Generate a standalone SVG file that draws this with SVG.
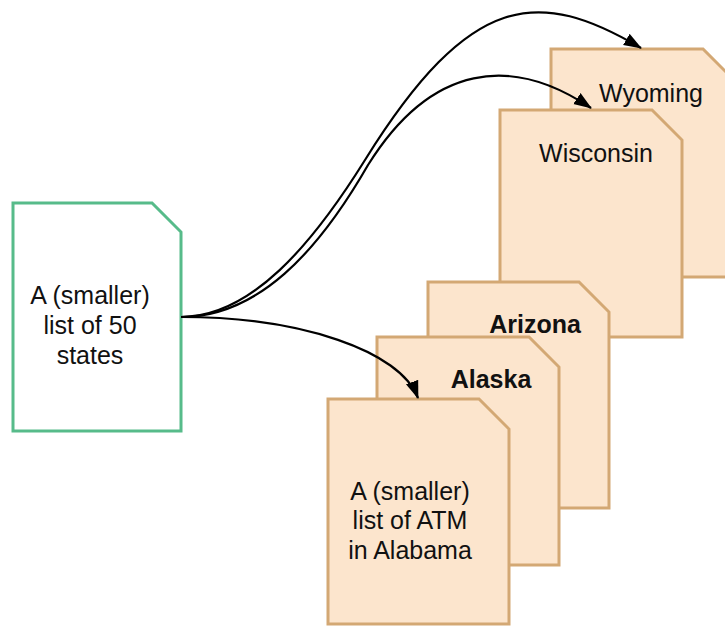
<svg xmlns="http://www.w3.org/2000/svg" width="725" height="626" viewBox="0 0 725 626">
  <style>
    .doc { fill: #fce5cd; stroke: #d3a874; stroke-width: 3; stroke-linejoin: miter; }
    .src { fill: #ffffff; stroke: #57bb8a; stroke-width: 3; }
    .lbl { font-family: "Liberation Sans", Arial, sans-serif; font-size: 25px; fill: #111; text-anchor: middle; }
    .bold { font-weight: bold; }
    .link { fill: none; stroke: #000; stroke-width: 2.2; marker-end: url(#arrow); }
  </style>
  <defs>
    <marker id="arrow" markerUnits="userSpaceOnUse" markerWidth="18" markerHeight="14" viewBox="0 0 18 14" refX="17" refY="7" orient="auto">
      <path d="M0,0.5 L18,7 L0,13.5 Z" fill="#000"/>
    </marker>
  </defs>

  <!-- source list -->
  <g id="states-list">
    <path class="src" d="M13,203 H152 L181,232 V431 H13 Z"/>
    <text class="lbl" x="90" y="304">A (smaller)</text>
    <text class="lbl" x="90" y="334">list of 50</text>
    <text class="lbl" x="90" y="364">states</text>
  </g>

  <!-- per-state lists, back to front -->
  <g id="wyoming">
    <path class="doc" d="M551,49 H703 L733,79 V277 H551 Z"/>
    <text class="lbl" x="651" y="102">Wyoming</text>
  </g>
  <g id="wisconsin">
    <path class="doc" d="M500,110 H652 L682,140 V337 H500 Z"/>
    <text class="lbl" x="596" y="162">Wisconsin</text>
  </g>
  <g id="arizona">
    <path class="doc" d="M428,282 H579 L609,312 V508 H428 Z"/>
    <text class="lbl bold" x="535" y="333">Arizona</text>
  </g>
  <g id="alaska">
    <path class="doc" d="M377,337 H529 L559,367 V565 H377 Z"/>
    <text class="lbl bold" x="491" y="388">Alaska</text>
  </g>
  <g id="alabama">
    <path class="doc" d="M328,399 H479 L509,429 V624 H328 Z"/>
    <text class="lbl" x="410" y="500">A (smaller)</text>
    <text class="lbl" x="410" y="529">list of ATM</text>
    <text class="lbl" x="410" y="559">in Alabama</text>
  </g>

  <!-- connectors -->
  <g id="connectors">
    <path class="link" d="M181,317 C251,317 312,245 365,160 C471,-10 539,-12 641,48"/>
    <path class="link" d="M181,317 C258,317 318,252 368,165 C431.6,63 512,54.8 591,108"/>
    <path class="link" d="M181,317 C301,317 400.5,351 418,398"/>
  </g>
</svg>
